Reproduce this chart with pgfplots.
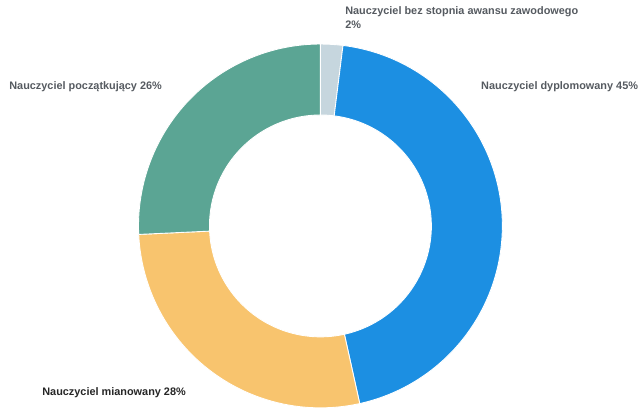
\documentclass[border=0pt]{standalone}
\usepackage{pgfplots}
\pgfplotsset{compat=1.18}
\usepackage{pgfplotstable}
\usepackage{fontspec}
\setmainfont{Liberation Sans}

\definecolor{cGrey}{HTML}{C6D6DE}
\definecolor{cBlue}{HTML}{1C8FE2}
\definecolor{cYellow}{HTML}{F8C46E}
\definecolor{cTeal}{HTML}{5BA594}
\definecolor{labelgrey}{HTML}{555A60}

% share of teachers by grade (%), clockwise from the top
\pgfplotstableread[col sep=comma]{
label,value,color
bez,2,cGrey
dypl,45,cBlue
mian,28,cYellow
pocz,26,cTeal
}\shares

\begin{document}
\begin{tikzpicture}
\begin{axis}[
    hide axis,
    x=0.02cm, y=0.02cm,
    xmin=0, xmax=638,
    ymin=0, ymax=409,
    clip=false,
]
\pgfplotsextra{
  \path (axis cs:0,0) rectangle (axis cs:638,409);
  \xdef\total{0}
  \foreach \i in {0,...,3}{
    \pgfplotstablegetelem{\i}{value}\of\shares
    \pgfmathsetmacro\tmpsum{\total+\pgfplotsretval}
    \xdef\total{\tmpsum}
  }
  \xdef\cum{90}
  \begin{scope}[shift={(axis cs:320.5,183)}]
  \foreach \i in {0,...,3}{
    \pgfplotstablegetelem{\i}{value}\of\shares
    \pgfmathsetmacro\sweep{360*\pgfplotsretval/\total}
    \pgfmathsetmacro\endang{\cum-\sweep}
    \pgfplotstablegetelem{\i}{color}\of\shares
    \edef\col{\pgfplotsretval}
    \fill[fill=\col, draw=white, line width=0.5pt]
      (\cum:3.64cm) arc[start angle=\cum, end angle=\endang, radius=3.64cm]
      -- (\endang:2.22cm) arc[start angle=\endang, end angle=\cum, radius=2.22cm]
      -- cycle;
    \xdef\cum{\endang}
  }
  \end{scope}
}
\begin{scope}[every node/.style={font=\fontsize{6.2}{8}\selectfont\bfseries, inner sep=0pt, anchor=west}]
\node[labelgrey, anchor=north west, align=left] at (axis cs:345,403) {Nauczyciel bez stopnia awansu zawodowego\\2\%};
\node[labelgrey] at (axis cs:481,322) {Nauczyciel dyplomowany 45\%};
\node[labelgrey] at (axis cs:9,322) {Nauczyciel początkujący 26\%};
\node[black!85] at (axis cs:42,16) {Nauczyciel mianowany 28\%};
\end{scope}
\end{axis}
\end{tikzpicture}
\end{document}
